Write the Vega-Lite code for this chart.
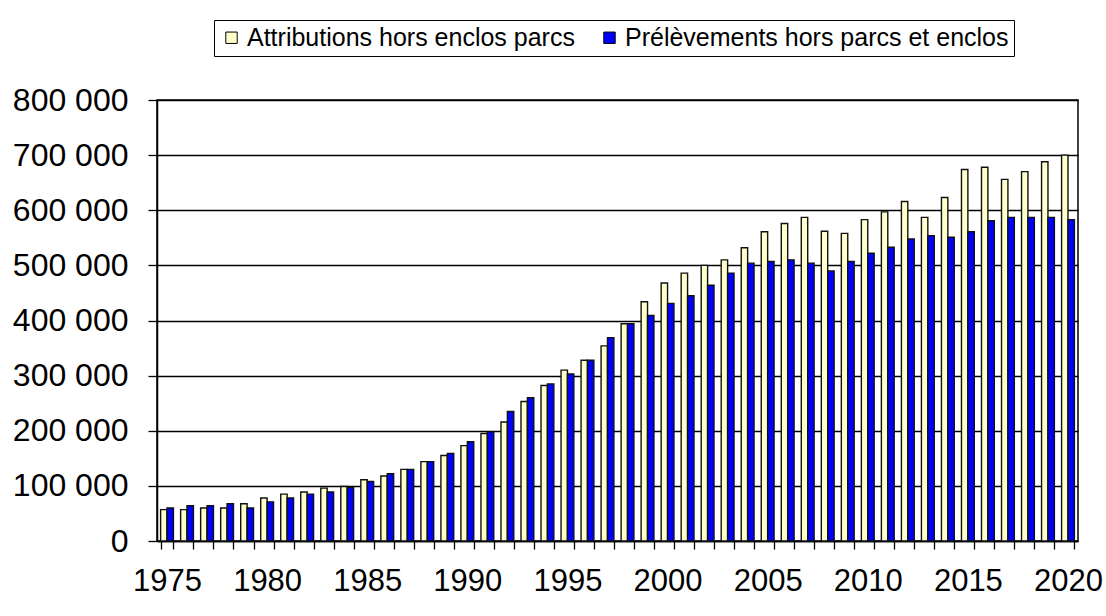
{
  "$schema": "https://vega.github.io/schema/vega-lite/v6.json",
  "autosize": "none",
  "width": 921,
  "height": 441,
  "padding": {"left": 157, "top": 100, "right": 28, "bottom": 75},
  "background": "white",
  "config": {
    "font": "Liberation Sans",
    "view": {"stroke": "black", "strokeWidth": 1.5}
  },
  "data": {
    "values": [
      {"year": 1975, "serie": "Attributions hors enclos parcs", "value": 57000},
      {"year": 1975, "serie": "Prélèvements hors parcs et enclos", "value": 60000},
      {"year": 1976, "serie": "Attributions hors enclos parcs", "value": 57000},
      {"year": 1976, "serie": "Prélèvements hors parcs et enclos", "value": 64000},
      {"year": 1977, "serie": "Attributions hors enclos parcs", "value": 60000},
      {"year": 1977, "serie": "Prélèvements hors parcs et enclos", "value": 64000},
      {"year": 1978, "serie": "Attributions hors enclos parcs", "value": 60000},
      {"year": 1978, "serie": "Prélèvements hors parcs et enclos", "value": 67500},
      {"year": 1979, "serie": "Attributions hors enclos parcs", "value": 67500},
      {"year": 1979, "serie": "Prélèvements hors parcs et enclos", "value": 60000},
      {"year": 1980, "serie": "Attributions hors enclos parcs", "value": 78000},
      {"year": 1980, "serie": "Prélèvements hors parcs et enclos", "value": 71000},
      {"year": 1981, "serie": "Attributions hors enclos parcs", "value": 85000},
      {"year": 1981, "serie": "Prélèvements hors parcs et enclos", "value": 78000},
      {"year": 1982, "serie": "Attributions hors enclos parcs", "value": 89000},
      {"year": 1982, "serie": "Prélèvements hors parcs et enclos", "value": 85000},
      {"year": 1983, "serie": "Attributions hors enclos parcs", "value": 96000},
      {"year": 1983, "serie": "Prélèvements hors parcs et enclos", "value": 89000},
      {"year": 1984, "serie": "Attributions hors enclos parcs", "value": 99000},
      {"year": 1984, "serie": "Prélèvements hors parcs et enclos", "value": 97000},
      {"year": 1985, "serie": "Attributions hors enclos parcs", "value": 111000},
      {"year": 1985, "serie": "Prélèvements hors parcs et enclos", "value": 108000},
      {"year": 1986, "serie": "Attributions hors enclos parcs", "value": 118000},
      {"year": 1986, "serie": "Prélèvements hors parcs et enclos", "value": 122000},
      {"year": 1987, "serie": "Attributions hors enclos parcs", "value": 130000},
      {"year": 1987, "serie": "Prélèvements hors parcs et enclos", "value": 130000},
      {"year": 1988, "serie": "Attributions hors enclos parcs", "value": 144000},
      {"year": 1988, "serie": "Prélèvements hors parcs et enclos", "value": 144000},
      {"year": 1989, "serie": "Attributions hors enclos parcs", "value": 155000},
      {"year": 1989, "serie": "Prélèvements hors parcs et enclos", "value": 159000},
      {"year": 1990, "serie": "Attributions hors enclos parcs", "value": 173000},
      {"year": 1990, "serie": "Prélèvements hors parcs et enclos", "value": 180000},
      {"year": 1991, "serie": "Attributions hors enclos parcs", "value": 195000},
      {"year": 1991, "serie": "Prélèvements hors parcs et enclos", "value": 198000},
      {"year": 1992, "serie": "Attributions hors enclos parcs", "value": 216000},
      {"year": 1992, "serie": "Prélèvements hors parcs et enclos", "value": 235000},
      {"year": 1993, "serie": "Attributions hors enclos parcs", "value": 253000},
      {"year": 1993, "serie": "Prélèvements hors parcs et enclos", "value": 260000},
      {"year": 1994, "serie": "Attributions hors enclos parcs", "value": 282000},
      {"year": 1994, "serie": "Prélèvements hors parcs et enclos", "value": 285000},
      {"year": 1995, "serie": "Attributions hors enclos parcs", "value": 310000},
      {"year": 1995, "serie": "Prélèvements hors parcs et enclos", "value": 303000},
      {"year": 1996, "serie": "Attributions hors enclos parcs", "value": 328000},
      {"year": 1996, "serie": "Prélèvements hors parcs et enclos", "value": 328000},
      {"year": 1997, "serie": "Attributions hors enclos parcs", "value": 354000},
      {"year": 1997, "serie": "Prélèvements hors parcs et enclos", "value": 369000},
      {"year": 1998, "serie": "Attributions hors enclos parcs", "value": 394000},
      {"year": 1998, "serie": "Prélèvements hors parcs et enclos", "value": 394000},
      {"year": 1999, "serie": "Attributions hors enclos parcs", "value": 434000},
      {"year": 1999, "serie": "Prélèvements hors parcs et enclos", "value": 409000},
      {"year": 2000, "serie": "Attributions hors enclos parcs", "value": 468000},
      {"year": 2000, "serie": "Prélèvements hors parcs et enclos", "value": 431000},
      {"year": 2001, "serie": "Attributions hors enclos parcs", "value": 486000},
      {"year": 2001, "serie": "Prélèvements hors parcs et enclos", "value": 445000},
      {"year": 2002, "serie": "Attributions hors enclos parcs", "value": 500000},
      {"year": 2002, "serie": "Prélèvements hors parcs et enclos", "value": 464000},
      {"year": 2003, "serie": "Attributions hors enclos parcs", "value": 510000},
      {"year": 2003, "serie": "Prélèvements hors parcs et enclos", "value": 486000},
      {"year": 2004, "serie": "Attributions hors enclos parcs", "value": 532000},
      {"year": 2004, "serie": "Prélèvements hors parcs et enclos", "value": 504000},
      {"year": 2005, "serie": "Attributions hors enclos parcs", "value": 561000},
      {"year": 2005, "serie": "Prélèvements hors parcs et enclos", "value": 507000},
      {"year": 2006, "serie": "Attributions hors enclos parcs", "value": 576000},
      {"year": 2006, "serie": "Prélèvements hors parcs et enclos", "value": 510000},
      {"year": 2007, "serie": "Attributions hors enclos parcs", "value": 587000},
      {"year": 2007, "serie": "Prélèvements hors parcs et enclos", "value": 504000},
      {"year": 2008, "serie": "Attributions hors enclos parcs", "value": 562000},
      {"year": 2008, "serie": "Prélèvements hors parcs et enclos", "value": 490000},
      {"year": 2009, "serie": "Attributions hors enclos parcs", "value": 558000},
      {"year": 2009, "serie": "Prélèvements hors parcs et enclos", "value": 507000},
      {"year": 2010, "serie": "Attributions hors enclos parcs", "value": 583000},
      {"year": 2010, "serie": "Prélèvements hors parcs et enclos", "value": 522000},
      {"year": 2011, "serie": "Attributions hors enclos parcs", "value": 597000},
      {"year": 2011, "serie": "Prélèvements hors parcs et enclos", "value": 533000},
      {"year": 2012, "serie": "Attributions hors enclos parcs", "value": 616000},
      {"year": 2012, "serie": "Prélèvements hors parcs et enclos", "value": 548000},
      {"year": 2013, "serie": "Attributions hors enclos parcs", "value": 587000},
      {"year": 2013, "serie": "Prélèvements hors parcs et enclos", "value": 554000},
      {"year": 2014, "serie": "Attributions hors enclos parcs", "value": 623000},
      {"year": 2014, "serie": "Prélèvements hors parcs et enclos", "value": 551000},
      {"year": 2015, "serie": "Attributions hors enclos parcs", "value": 674000},
      {"year": 2015, "serie": "Prélèvements hors parcs et enclos", "value": 561000},
      {"year": 2016, "serie": "Attributions hors enclos parcs", "value": 678000},
      {"year": 2016, "serie": "Prélèvements hors parcs et enclos", "value": 581000},
      {"year": 2017, "serie": "Attributions hors enclos parcs", "value": 656000},
      {"year": 2017, "serie": "Prélèvements hors parcs et enclos", "value": 587000},
      {"year": 2018, "serie": "Attributions hors enclos parcs", "value": 670000},
      {"year": 2018, "serie": "Prélèvements hors parcs et enclos", "value": 587000},
      {"year": 2019, "serie": "Attributions hors enclos parcs", "value": 688000},
      {"year": 2019, "serie": "Prélèvements hors parcs et enclos", "value": 587000},
      {"year": 2020, "serie": "Attributions hors enclos parcs", "value": 700000},
      {"year": 2020, "serie": "Prélèvements hors parcs et enclos", "value": 583000}
    ]
  },
  "mark": {"type": "bar", "stroke": "#111111", "strokeWidth": 1.4},
  "encoding": {
    "x": {
      "field": "year",
      "type": "ordinal",
      "scale": {"paddingInner": 0.36, "paddingOuter": 0.18},
      "axis": {
        "title": null,
        "labelAngle": 0,
        "labelFontSize": 31,
        "labelColor": "black",
        "labelOverlap": false,
        "labelExpr": "datum.value % 5 === 0 ? datum.label : ''",
        "tickBand": "extent",
        "tickSize": 8,
        "tickColor": "black",
        "tickWidth": 1.3,
        "labelPadding": 17,
        "domainColor": "black",
        "domainWidth": 1.5
      }
    },
    "xOffset": {"field": "serie", "type": "nominal"},
    "y": {
      "field": "value",
      "type": "quantitative",
      "scale": {"domain": [0, 800000]},
      "axis": {
        "title": null,
        "values": [0, 100000, 200000, 300000, 400000, 500000, 600000, 700000, 800000],
        "labelExpr": "replace(format(datum.value, ','), ',', ' ')",
        "labelFontSize": 32,
        "labelColor": "black",
        "labelPadding": 20,
        "tickSize": 9,
        "tickColor": "black",
        "tickWidth": 1.3,
        "grid": true,
        "gridColor": "black",
        "gridWidth": 1.5,
        "gridOpacity": 1,
        "domainColor": "black",
        "domainWidth": 1.5
      }
    },
    "color": {
      "field": "serie",
      "type": "nominal",
      "scale": {
        "domain": ["Attributions hors enclos parcs", "Prélèvements hors parcs et enclos"],
        "range": ["#FFFFCC", "#0000FF"]
      },
      "legend": {
        "title": null,
        "orient": "none",
        "legendX": 57,
        "legendY": -80,
        "direction": "horizontal",
        "strokeColor": "black",
        "fillColor": "white",
        "padding": 5,
        "symbolType": "square",
        "symbolSize": 130,
        "symbolStrokeColor": "black",
        "symbolStrokeWidth": 1,
        "symbolOpacity": 1,
        "labelFontSize": 25,
        "labelColor": "black",
        "labelLimit": 0,
        "labelOffset": 3,
        "columnPadding": 22
      }
    }
  }
}
